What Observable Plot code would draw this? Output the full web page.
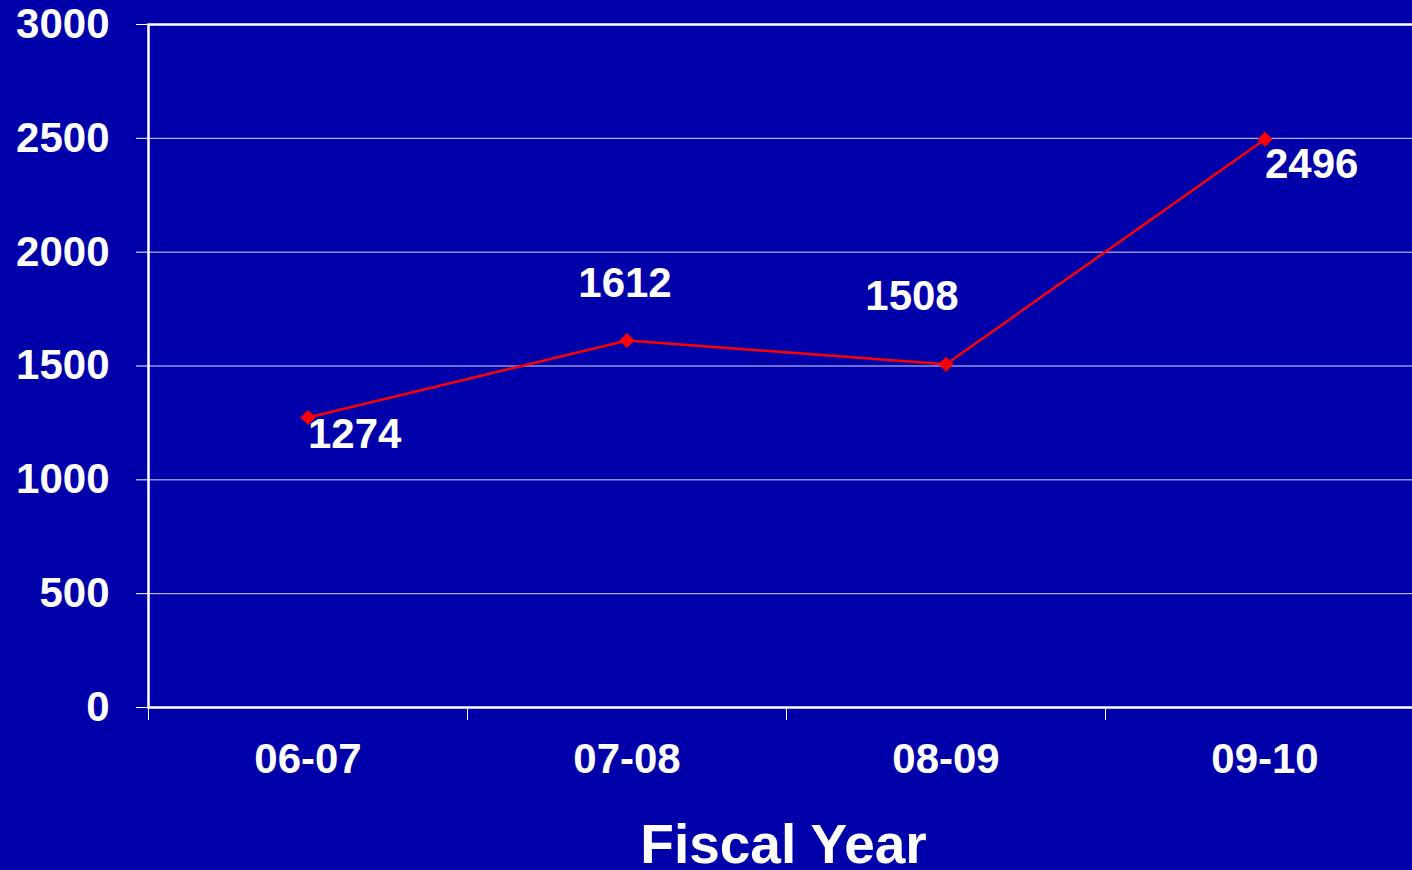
<!DOCTYPE html>
<html><head><meta charset="utf-8">
<script src="https://cdn.jsdelivr.net/npm/d3@7"></script>
<script src="https://cdn.jsdelivr.net/npm/@observablehq/plot@0.6"></script>
<style>html,body{margin:0;padding:0;background:#0000AA;overflow:hidden;}</style>
</head><body><div id="chart"></div>
<script>
const categories = ["06-07", "07-08", "08-09", "09-10"];
const values = [1274, 1612, 1508, 2496];
const yTicks = [0, 500, 1000, 1500, 2000, 2500, 3000];
const xLabel = "Fiscal Year";

const data = categories.map((c, i) => ({category: c, index: i, value: values[i]}));
const pos = d => d.index + 0.5;
const font = '"Liberation Sans", Arial, sans-serif';
const labelMark = (i, opts) => Plot.text(data.filter(d => d.index === i), {
  x: pos, y: "value", text: d => String(d.value), fill: "white",
  fontSize: 42, fontWeight: "bold", ...opts
});

const chart = Plot.plot({
  width: 1412, height: 870,
  marginTop: 24, marginLeft: 148, marginBottom: 163, marginRight: -12,
  style: {background: "#0000AA", color: "white", fontFamily: font, overflow: "hidden"},
  x: {domain: [0, 4], range: [148, 1424]},
  y: {domain: [0, 3000], range: [707, 24]},
  marks: [
    Plot.gridY(yTicks.filter(t => t > 0 && t < 3000), {stroke: "white", strokeOpacity: 0.85, strokeWidth: 1}),
    Plot.axisY({ticks: yTicks, tickSize: 12, tickPadding: 27, tickFormat: d => String(d),
      fontSize: 42, fontWeight: "bold", label: null}),
    Plot.axisX({ticks: [0, 1, 2, 3, 4], tickSize: 13, tickFormat: () => "", label: null}),
    Plot.axisX({ticks: categories.map((c, i) => i + 0.5), tickSize: 0, tickPadding: 36,
      tickFormat: v => categories[Math.floor(v)], fontSize: 42, fontWeight: "bold", label: null}),
    Plot.frame({stroke: "white", strokeWidth: 2.5}),
    Plot.line(data, {x: pos, y: "value", stroke: "#FF0000", strokeWidth: 2.5}),
    Plot.dot(data, {x: pos, y: "value", symbol: "diamond2", r: 6.8, fill: "#FF0000"}),
    labelMark(0, {textAnchor: "start", dy: 17}),
    labelMark(1, {textAnchor: "middle", dx: -2, dy: -57}),
    labelMark(2, {textAnchor: "middle", dx: -34, dy: -68}),
    labelMark(3, {textAnchor: "start", dy: 25}),
    Plot.text([xLabel], {frameAnchor: "bottom", text: d => d, dy: 138, dx: -3, fontSize: 55,
      fontWeight: "bold", fill: "white", lineAnchor: "middle"})
  ]
});
document.getElementById("chart").appendChild(chart);
</script>
</body></html>
